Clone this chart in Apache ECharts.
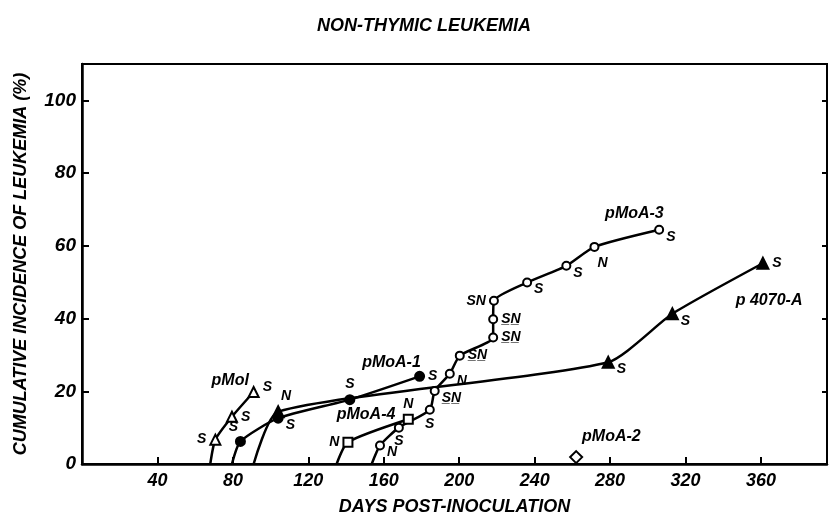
<!DOCTYPE html>
<html>
<head>
<meta charset="utf-8">
<script src="https://cdn.jsdelivr.net/npm/echarts@6/dist/echarts.min.js"></script>
<style>
  html, body { margin: 0; padding: 0; background: #fff; }
  #chart { width: 830px; height: 521px; }
</style>
</head>
<body>
<div id="chart"></div>
<script>
// values (days, cumulative %)
const pMolDays = [68, 70.7, 79.5, 91];
const pMolPct = [0, 6.7, 13, 19.8];
const pMolTags = ["", "S", "S", "S"];

const pMoA1Days = [79.5, 84, 104, 142, 179];
const pMoA1Pct = [0, 6.2, 12.6, 17.7, 24.1];
const pMoA1Tags = ["", "S", "S", "S", "S"];

const p4070ADays = [91, 104, 279, 313, 361];
const p4070APct = [0, 14.4, 28, 41.3, 55.2];
const p4070ATags = ["", "N", "S", "S", "S"];

const pMoA4Days = [135, 141, 173];
const pMoA4Pct = [0, 6, 12.3];
const pMoA4Tags = ["", "N", "N"];

const pMoA3Days = [153.6, 158, 168, 184.4, 187, 195, 200.3, 218, 218, 218.4, 236, 256.8, 271.7, 306];
const pMoA3Pct = [0, 5.1, 10, 14.9, 20.1, 24.8, 29.8, 34.8, 39.8, 44.9, 49.9, 54.5, 59.7, 64.4];
const pMoA3Tags = ["", "N", "S", "S", "S\u0332N\u0332", "N", "S\u0332N\u0332", "S\u0332N\u0332", "S\u0332N\u0332", "SN", "S", "S", "N", "S"];

const pMoA2Days = [262];
const pMoA2Pct = [1.9];

// where each tag sits next to its point
const pMolPos = ["", "l", "r", "ru"];
const pMoA1Pos = ["", "tl", "rb", "t", "r"];
const p4070APos = ["", "tr", "rb", "rb", "r"];
const pMoA4Pos = ["", "l", "t"];
const pMoA3Pos = ["", "rb", "b", "b", "rb", "rb", "r", "r", "r", "l", "rb", "rb", "br", "rb"];

const FONT = "Liberation Sans";

const posStyle = {
  r: { position: "right", distance: 3 },
  ru: { position: "right", distance: 3, offset: [0, -5] },
  l: { position: "left", distance: 3 },
  t: { position: "top", distance: 3 },
  b: { position: "bottom", distance: 2 },
  br: { position: "bottom", distance: 4, offset: [8, 0] },
  rb: { position: "right", distance: 2, offset: [0, 7] },
  tr: { position: "top", distance: 2, offset: [8, 0] },
  tl: { position: "top", distance: 2, offset: [-7, 0] },
};

function buildData(days, pct, tags, pos) {
  return days.map(function (d, i) {
    const item = { value: [d, pct[i]] };
    if (pct[i] === 0) {
      item.symbol = "none";
    }
    if (tags && tags[i]) {
      item.label = Object.assign({
        show: true,
        formatter: tags[i],
        color: "#000",
        fontFamily: FONT,
        fontStyle: "italic",
        fontWeight: "bold",
        fontSize: 14,
      }, posStyle[pos[i]]);
    }
    return item;
  });
}

function nameMark(text, day, pct) {
  return {
    symbol: "circle",
    symbolSize: 0,
    silent: true,
    itemStyle: { color: "transparent" },
    label: {
      show: true,
      position: "inside",
      color: "#000",
      fontFamily: FONT,
      fontStyle: "italic",
      fontWeight: "bold",
      fontSize: 16,
    },
    data: [{ coord: [day, pct], value: text, label: { formatter: text } }],
  };
}

function curve(name, symbol, size, days, pct, tags, pos, label) {
  return {
    name: name,
    type: "line",
    smooth: 0.2,
    symbol: symbol,
    symbolSize: size,
    showAllSymbol: true,
    lineStyle: { color: "#000", width: 2.5 },
    itemStyle: { color: "#000", borderColor: "#000", borderWidth: 2 },
    z: 3,
    data: buildData(days, pct, tags, pos),
    markPoint: label,
  };
}

const chart = echarts.init(document.getElementById("chart"));
chart.setOption({
  animation: false,
  title: {
    text: "NON-THYMIC LEUKEMIA",
    left: 312,
    top: 12,
    textStyle: {
      color: "#000",
      fontFamily: FONT,
      fontStyle: "italic",
      fontWeight: "bold",
      fontSize: 18,
    },
  },
  grid: {
    left: 82,
    top: 64,
    right: 1,
    bottom: 53,
    show: true,
    borderColor: "#000",
    borderWidth: 2,
  },
  xAxis: {
    type: "value",
    min: 0,
    max: 395,
    interval: 40,
    name: "DAYS POST-INOCULATION",
    nameLocation: "middle",
    nameGap: 34,
    nameTextStyle: {
      color: "#000",
      fontFamily: FONT,
      fontStyle: "italic",
      fontWeight: "bold",
      fontSize: 18,
    },
    splitLine: { show: false },
    axisLine: { lineStyle: { color: "#000", width: 2.5 } },
    axisTick: { inside: true, length: 7, lineStyle: { color: "#000", width: 2 } },
    axisLabel: {
      color: "#000",
      fontFamily: FONT,
      fontStyle: "italic",
      fontWeight: "bold",
      fontSize: 18,
      margin: 8,
      formatter: function (v) { return v === 0 || v % 40 !== 0 ? "" : v; },
    },
  },
  yAxis: [
    {
      type: "value",
      min: 0,
      max: 110,
      interval: 20,
      name: "CUMULATIVE INCIDENCE OF LEUKEMIA (%)",
      nameLocation: "middle",
      nameRotate: 90,
      nameGap: 52,
      nameTextStyle: {
        color: "#000",
        fontFamily: FONT,
        fontStyle: "italic",
        fontWeight: "bold",
        fontSize: 18,
      },
      splitLine: { show: false },
      axisLine: { show: true, lineStyle: { color: "#000", width: 2.5 } },
      axisTick: { inside: true, length: 7, lineStyle: { color: "#000", width: 2 } },
      axisLabel: {
        color: "#000",
        fontFamily: FONT,
        fontStyle: "italic",
        fontWeight: "bold",
        fontSize: 19,
        margin: 6,
        formatter: function (v) { return v > 100 ? "" : v; },
      },
    },
    {
      type: "value",
      position: "right",
      min: 0,
      max: 110,
      interval: 20,
      splitLine: { show: false },
      axisLine: { show: true, lineStyle: { color: "#000", width: 2 } },
      axisTick: { inside: true, length: 5, lineStyle: { color: "#000", width: 2 } },
      axisLabel: { show: false },
    },
  ],
  series: [
    curve("pMol", "emptyTriangle", 10, pMolDays, pMolPct, pMolTags, pMolPos,
      nameMark("pMol", 78.6, 22.8)),
    curve("pMoA-1", "circle", 9, pMoA1Days, pMoA1Pct, pMoA1Tags, pMoA1Pos,
      nameMark("pMoA-1", 164.1, 27.9)),
    curve("p 4070-A", "triangle", 11, p4070ADays, p4070APct, p4070ATags, p4070APos,
      nameMark("p 4070-A", 364.3, 45)),
    curve("pMoA-4", "emptyRect", 9, pMoA4Days, pMoA4Pct, pMoA4Tags, pMoA4Pos,
      nameMark("pMoA-4", 150.6, 13.7)),
    curve("pMoA-3", "emptyCircle", 8, pMoA3Days, pMoA3Pct, pMoA3Tags, pMoA3Pos,
      nameMark("pMoA-3", 292.9, 68.9)),
    {
      name: "pMoA-2",
      type: "scatter",
      symbol: "emptyDiamond",
      symbolSize: 12,
      itemStyle: { color: "#000", borderColor: "#000", borderWidth: 2, opacity: 1 },
      data: pMoA2Days.map(function (d, i) { return [d, pMoA2Pct[i]]; }),
      markPoint: nameMark("pMoA-2", 280.7, 7.6),
    },
  ],
});
</script>
</body>
</html>
